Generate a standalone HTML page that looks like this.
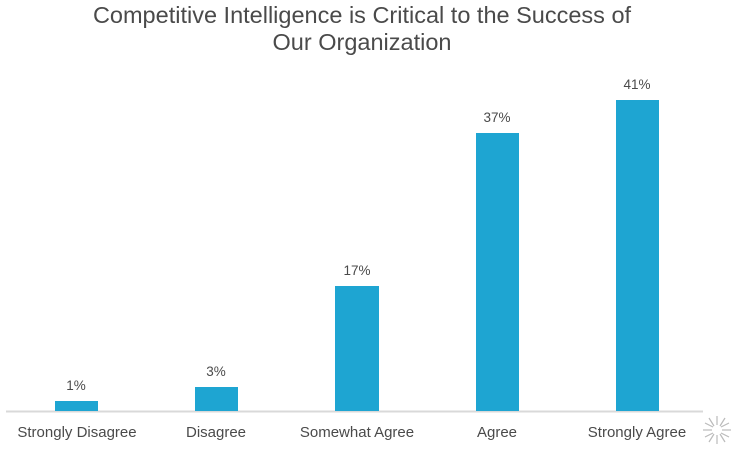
<!DOCTYPE html>
<html><head><meta charset="utf-8"><style>
html,body{margin:0;padding:0;background:#fff;}
svg{display:block;}
text{font-family:"Liberation Sans",sans-serif;fill:#4a4a4a;}
</style></head><body>
<svg width="736" height="460" viewBox="0 0 736 460">
<text x="362" y="23" font-size="23.5" text-anchor="middle">Competitive Intelligence is Critical to the Success of</text>
<text x="362" y="50" font-size="23.5" text-anchor="middle">Our Organization</text>
<line x1="6" y1="411.5" x2="703" y2="411.5" stroke="#d9d9d9" stroke-width="2"/>
<g fill="#1ea5d2">
<rect x="55" y="401" width="43" height="10"/>
<rect x="195" y="387" width="43" height="24"/>
<rect x="335" y="286" width="44" height="125"/>
<rect x="476" y="133" width="43" height="278"/>
<rect x="616" y="100" width="43" height="311"/>
</g>
<g font-size="13.5" text-anchor="middle">
<text x="76" y="390">1%</text>
<text x="216" y="376">3%</text>
<text x="357" y="275">17%</text>
<text x="497" y="122">37%</text>
<text x="637" y="89">41%</text>
</g>
<g font-size="15" text-anchor="middle">
<text x="77" y="437">Strongly Disagree</text>
<text x="216" y="437">Disagree</text>
<text x="357" y="437">Somewhat Agree</text>
<text x="497" y="437">Agree</text>
<text x="637" y="437">Strongly Agree</text>
</g>
<g stroke="#bbb" stroke-width="1.2" transform="translate(717,430)">
<line x1="5" y1="0" x2="14" y2="0"/><line x1="4" y1="3" x2="12" y2="7"/><line x1="3" y1="4" x2="8" y2="12"/>
<line x1="0" y1="5" x2="0" y2="14"/><line x1="-3" y1="4" x2="-8" y2="12"/><line x1="-4" y1="3" x2="-12" y2="7"/>
<line x1="-5" y1="0" x2="-14" y2="0"/><line x1="-4" y1="-3" x2="-12" y2="-7"/><line x1="-3" y1="-4" x2="-8" y2="-12"/>
<line x1="0" y1="-5" x2="0" y2="-14"/><line x1="3" y1="-4" x2="8" y2="-12"/><line x1="4" y1="-3" x2="12" y2="-7"/>
</g>
</svg>
</body></html>
